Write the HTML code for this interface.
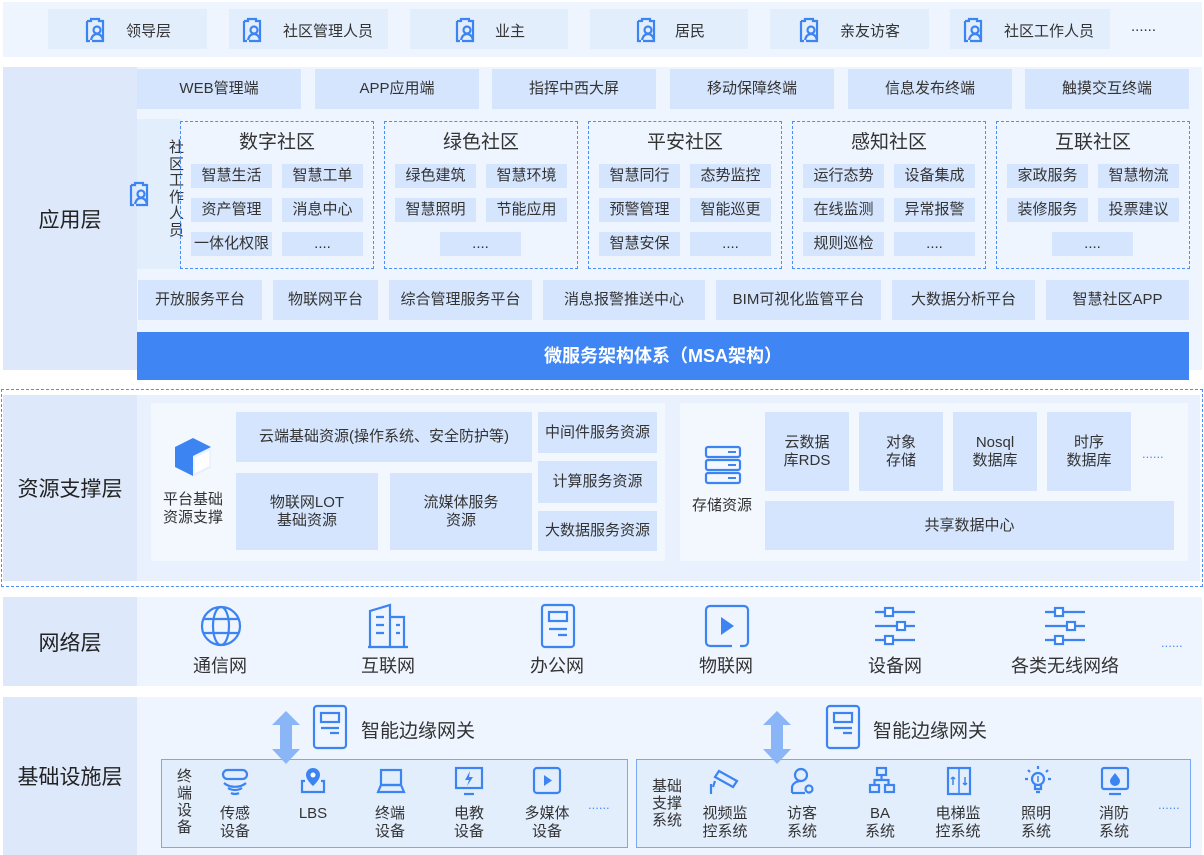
<!DOCTYPE html>
<html><head><meta charset="utf-8"><style>
*{margin:0;padding:0;box-sizing:border-box}
body{width:1204px;height:855px;background:#fff;position:relative;overflow:hidden;font-family:"Liberation Sans","Noto Sans CJK SC",sans-serif;color:#333}
div{position:absolute}
.sec{background:#eef5fe}
.lab{background:#dde9fb;display:flex;align-items:center;justify-content:center;font-size:21px;color:#222}
.b{background:#d5e5fd;display:flex;align-items:center;justify-content:center;text-align:center;font-size:15px;color:#333;line-height:18px}
.s{font-size:15px}
.dash{border:1.5px dashed #4b8ef5}
.t{display:flex;align-items:center;justify-content:center;text-align:center;line-height:18px}
svg{position:absolute}
.ic{stroke:#3d84f3;fill:none;stroke-width:2.2}
.dots{color:#4b8ef5;font-size:13px;letter-spacing:0px}
</style></head><body>

<!-- top users -->
<div class="sec" style="left:3px;top:2px;width:1199px;height:55px"></div>
<svg width="0" height="0"><defs><g id="pu"><path d="M4 5h4v-2h8v2h4v20h-11" class="ic"/><path d="M4 5v20h3" class="ic"/><circle cx="14" cy="14" r="3.5" class="ic"/><path d="M8 24c1-4 3-6 6-6s5 2 6 6" class="ic"/></g></defs></svg>
<div class="b" style="left:48px;top:9px;width:159px;height:40px;background:#e3eefd"></div>
<div class="b" style="left:229px;top:9px;width:159px;height:40px;background:#e3eefd"></div>
<div class="b" style="left:410px;top:9px;width:158px;height:40px;background:#e3eefd"></div>
<div class="b" style="left:590px;top:9px;width:158px;height:40px;background:#e3eefd"></div>
<div class="b" style="left:770px;top:9px;width:159px;height:40px;background:#e3eefd"></div>
<div class="b" style="left:950px;top:9px;width:160px;height:40px;background:#e3eefd"></div>
<svg style="left:83px;top:16px" width="26" height="28"><use href="#pu"/></svg>
<svg style="left:240px;top:16px" width="26" height="28"><use href="#pu"/></svg>
<svg style="left:453px;top:16px" width="26" height="28"><use href="#pu"/></svg>
<svg style="left:634px;top:16px" width="26" height="28"><use href="#pu"/></svg>
<svg style="left:797px;top:16px" width="26" height="28"><use href="#pu"/></svg>
<svg style="left:961px;top:16px" width="26" height="28"><use href="#pu"/></svg>
<div class="s" style="left:126px;top:20px">领导层</div>
<div class="s" style="left:283px;top:20px">社区管理人员</div>
<div class="s" style="left:495px;top:20px">业主</div>
<div class="s" style="left:675px;top:20px">居民</div>
<div class="s" style="left:840px;top:20px">亲友访客</div>
<div class="s" style="left:1004px;top:20px">社区工作人员</div>
<div class="s" style="left:1131px;top:18px">......</div>

<!-- application layer -->
<div class="sec" style="left:3px;top:67px;width:1199px;height:303px"></div>
<div class="lab" style="left:3px;top:67px;width:134px;height:303px">应用层</div>
<div class="b" style="left:137px;top:69px;width:164px;height:40px">WEB管理端</div>
<div class="b" style="left:315px;top:69px;width:164px;height:40px">APP应用端</div>
<div class="b" style="left:492px;top:69px;width:164px;height:40px">指挥中西大屏</div>
<div class="b" style="left:670px;top:69px;width:164px;height:40px">移动保障终端</div>
<div class="b" style="left:848px;top:69px;width:164px;height:40px">信息发布终端</div>
<div class="b" style="left:1025px;top:69px;width:164px;height:40px">触摸交互终端</div>

<div style="left:137px;top:119px;width:44px;height:150px;background:#e3eefd"></div>
<svg style="left:127px;top:180px" width="26" height="28"><use href="#pu"/></svg>
<div style="left:169px;top:140px;width:18px;font-size:15px;line-height:16.5px">社区工作人员</div>

<div class="dash" style="left:180px;top:121px;width:194px;height:148px"></div>
<div class="dash" style="left:384px;top:121px;width:194px;height:148px"></div>
<div class="dash" style="left:588px;top:121px;width:194px;height:148px"></div>
<div class="dash" style="left:792px;top:121px;width:194px;height:148px"></div>
<div class="dash" style="left:996px;top:121px;width:194px;height:148px"></div>
<div class="t" style="left:180px;top:134px;width:194px;font-size:19px">数字社区</div>
<div class="t" style="left:384px;top:134px;width:194px;font-size:19px">绿色社区</div>
<div class="t" style="left:588px;top:134px;width:194px;font-size:19px">平安社区</div>
<div class="t" style="left:792px;top:134px;width:194px;font-size:19px">感知社区</div>
<div class="t" style="left:996px;top:134px;width:194px;font-size:19px">互联社区</div>

<div class="b" style="left:191px;top:164px;width:81px;height:24px">智慧生活</div>
<div class="b" style="left:282px;top:164px;width:81px;height:24px">智慧工单</div>
<div class="b" style="left:191px;top:198px;width:81px;height:24px">资产管理</div>
<div class="b" style="left:282px;top:198px;width:81px;height:24px">消息中心</div>
<div class="b" style="left:191px;top:232px;width:81px;height:24px">一体化权限</div>
<div class="b" style="left:282px;top:232px;width:81px;height:24px">....</div>

<div class="b" style="left:395px;top:164px;width:81px;height:24px">绿色建筑</div>
<div class="b" style="left:486px;top:164px;width:81px;height:24px">智慧环境</div>
<div class="b" style="left:395px;top:198px;width:81px;height:24px">智慧照明</div>
<div class="b" style="left:486px;top:198px;width:81px;height:24px">节能应用</div>
<div class="b" style="left:440px;top:232px;width:81px;height:24px">....</div>

<div class="b" style="left:599px;top:164px;width:81px;height:24px">智慧同行</div>
<div class="b" style="left:690px;top:164px;width:81px;height:24px">态势监控</div>
<div class="b" style="left:599px;top:198px;width:81px;height:24px">预警管理</div>
<div class="b" style="left:690px;top:198px;width:81px;height:24px">智能巡更</div>
<div class="b" style="left:599px;top:232px;width:81px;height:24px">智慧安保</div>
<div class="b" style="left:690px;top:232px;width:81px;height:24px">....</div>

<div class="b" style="left:803px;top:164px;width:81px;height:24px">运行态势</div>
<div class="b" style="left:894px;top:164px;width:81px;height:24px">设备集成</div>
<div class="b" style="left:803px;top:198px;width:81px;height:24px">在线监测</div>
<div class="b" style="left:894px;top:198px;width:81px;height:24px">异常报警</div>
<div class="b" style="left:803px;top:232px;width:81px;height:24px">规则巡检</div>
<div class="b" style="left:894px;top:232px;width:81px;height:24px">....</div>

<div class="b" style="left:1007px;top:164px;width:81px;height:24px">家政服务</div>
<div class="b" style="left:1098px;top:164px;width:81px;height:24px">智慧物流</div>
<div class="b" style="left:1007px;top:198px;width:81px;height:24px">装修服务</div>
<div class="b" style="left:1098px;top:198px;width:81px;height:24px">投票建议</div>
<div class="b" style="left:1052px;top:232px;width:81px;height:24px">....</div>

<div class="b" style="left:138px;top:280px;width:124px;height:40px">开放服务平台</div>
<div class="b" style="left:273px;top:280px;width:105px;height:40px">物联网平台</div>
<div class="b" style="left:389px;top:280px;width:143px;height:40px">综合管理服务平台</div>
<div class="b" style="left:543px;top:280px;width:162px;height:40px">消息报警推送中心</div>
<div class="b" style="left:716px;top:280px;width:165px;height:40px">BIM可视化监管平台</div>
<div class="b" style="left:892px;top:280px;width:143px;height:40px">大数据分析平台</div>
<div class="b" style="left:1046px;top:280px;width:143px;height:40px">智慧社区APP</div>
<div class="t" style="left:137px;top:332px;width:1052px;height:48px;background:#3f86f4;color:#fff;font-size:18px;font-weight:bold">微服务架构体系（MSA架构）</div>

<!-- resource layer -->
<div class="dash" style="left:1px;top:389px;width:1202px;height:198px"></div>
<div style="left:137px;top:395px;width:1063px;height:186px;background:#e8f1fd"></div>
<div class="lab" style="left:3px;top:395px;width:134px;height:186px">资源支撑层</div>
<div style="left:151px;top:403px;width:514px;height:158px;background:#f3f8ff"></div>
<svg style="left:172px;top:436px" width="44" height="42"><path d="M21 2l18 9v20l-18 9l-18-9v-20z" fill="#3d84f3"/><path d="M21 20l18-9v20l-18 9z" fill="#fff" opacity=".9"/><path d="M23 22l14-7v15l-14 7z" fill="#fff"/></svg>
<div class="t" style="left:153px;top:491px;width:80px;font-size:15px">平台基础<br>资源支撑</div>
<div class="b" style="left:236px;top:412px;width:296px;height:50px">云端基础资源(操作系统、安全防护等)</div>
<div class="b" style="left:236px;top:473px;width:142px;height:77px">物联网LOT<br>基础资源</div>
<div class="b" style="left:390px;top:473px;width:142px;height:77px">流媒体服务<br>资源</div>
<div class="b" style="left:538px;top:412px;width:119px;height:41px">中间件服务资源</div>
<div class="b" style="left:538px;top:461px;width:119px;height:42px">计算服务资源</div>
<div class="b" style="left:538px;top:511px;width:119px;height:40px">大数据服务资源</div>

<div style="left:680px;top:403px;width:508px;height:158px;background:#f3f8ff"></div>
<svg style="left:704px;top:445px" width="38" height="40"><g class="ic"><rect x="2" y="2" width="34" height="10" rx="2"/><rect x="2" y="15" width="34" height="10" rx="2"/><rect x="2" y="28" width="34" height="10" rx="2"/></g><g fill="#3d84f3"><rect x="24" y="6" width="8" height="2"/><rect x="24" y="19" width="8" height="2"/><rect x="24" y="32" width="8" height="2"/></g></svg>
<div class="t" style="left:684px;top:497px;width:76px;font-size:15px">存储资源</div>
<div class="b" style="left:765px;top:412px;width:84px;height:79px">云数据<br>库RDS</div>
<div class="b" style="left:859px;top:412px;width:84px;height:79px">对象<br>存储</div>
<div class="b" style="left:953px;top:412px;width:84px;height:79px">Nosql<br>数据库</div>
<div class="b" style="left:1047px;top:412px;width:84px;height:79px">时序<br>数据库</div>
<div class="dots" style="left:1142px;top:446px">......</div>
<div class="b" style="left:765px;top:501px;width:409px;height:49px">共享数据中心</div>

<!-- network -->
<div class="sec" style="left:3px;top:597px;width:1199px;height:89px"></div>
<div class="lab" style="left:3px;top:597px;width:134px;height:89px">网络层</div>
<svg style="left:199px;top:605px" width="44" height="42"><g class="ic" stroke-width="2.6"><circle cx="22" cy="21" r="19"/><ellipse cx="22" cy="21" rx="8" ry="19"/><path d="M4 14h36M4 28h36"/></g></svg>
<svg style="left:366px;top:603px" width="44" height="46"><g class="ic" stroke-width="2.6"><path d="M4 44v-36l20-6v42M24 14h14v30M2 44h40M10 14h8M10 22h8M10 30h8M30 22h4M30 30h4"/></g></svg>
<svg style="left:540px;top:603px" width="36" height="46"><g class="ic" stroke-width="2.6"><rect x="2" y="2" width="32" height="42" rx="3"/><rect x="9" y="9" width="18" height="9"/><path d="M9 26h18M18 32h9"/></g></svg>
<svg style="left:704px;top:604px" width="46" height="44"><g class="ic" stroke-width="3"><path d="M28 42h-22a4 4 0 0 1-4-4v-32a4 4 0 0 1 4-4h34a4 4 0 0 1 4 4v32a4 4 0 0 1-4 4h-4"/></g><path d="M17 13l13 9l-13 9z" fill="#3d84f3"/></svg>
<svg style="left:873px;top:606px" width="44" height="40"><g class="ic" stroke-width="2.6"><path d="M2 6h40M2 20h40M2 34h40"/><rect x="12" y="2" width="8" height="8" fill="#fff"/><rect x="24" y="16" width="8" height="8" fill="#fff"/><rect x="12" y="30" width="8" height="8" fill="#fff"/></g></svg>
<svg style="left:1043px;top:606px" width="44" height="40"><g class="ic" stroke-width="2.6"><path d="M2 6h40M2 20h40M2 34h40"/><rect x="12" y="2" width="8" height="8" fill="#fff"/><rect x="24" y="16" width="8" height="8" fill="#fff"/><rect x="12" y="30" width="8" height="8" fill="#fff"/></g></svg>
<div class="t" style="left:160px;top:657px;width:120px;font-size:18px">通信网</div>
<div class="t" style="left:328px;top:657px;width:120px;font-size:18px">互联网</div>
<div class="t" style="left:497px;top:657px;width:120px;font-size:18px">办公网</div>
<div class="t" style="left:666px;top:657px;width:120px;font-size:18px">物联网</div>
<div class="t" style="left:835px;top:657px;width:120px;font-size:18px">设备网</div>
<div class="t" style="left:995px;top:657px;width:140px;font-size:18px">各类无线网络</div>
<div class="dots" style="left:1161px;top:635px">......</div>

<!-- infrastructure -->
<div class="sec" style="left:3px;top:697px;width:1199px;height:158px"></div>
<div class="lab" style="left:3px;top:697px;width:134px;height:158px">基础设施层</div>
<svg style="left:312px;top:704px" width="36" height="46"><g class="ic" stroke-width="2.8"><rect x="2" y="2" width="32" height="42" rx="3"/><rect x="9" y="9" width="18" height="9"/><path d="M9 24h18M18 29h9"/></g></svg>
<svg style="left:825px;top:704px" width="36" height="46"><g class="ic" stroke-width="2.8"><rect x="2" y="2" width="32" height="42" rx="3"/><rect x="9" y="9" width="18" height="9"/><path d="M9 24h18M18 29h9"/></g></svg>
<div style="left:361px;top:716px;font-size:19px">智能边缘网关</div>
<div style="left:873px;top:716px;font-size:19px">智能边缘网关</div>

<div style="left:161px;top:759px;width:467px;height:89px;background:#e3eefd;border:1.5px solid #7aa9f2"></div>
<div style="left:636px;top:759px;width:555px;height:89px;background:#e3eefd;border:1.5px solid #7aa9f2"></div>
<svg style="left:270px;top:710px" width="32" height="55"><path d="M16 1l14 14h-8v24h8l-14 15l-14-15h8v-24h-8z" fill="#8ab6f8"/></svg>
<svg style="left:761px;top:710px" width="32" height="55"><path d="M16 1l14 14h-8v24h8l-14 15l-14-15h8v-24h-8z" fill="#8ab6f8"/></svg>
<div style="left:177px;top:768px;width:16px;font-size:15px;line-height:17px">终端设备</div>
<div class="t" style="left:205px;top:805px;width:60px;font-size:15px">传感<br>设备</div>
<div class="t" style="left:283px;top:805px;width:60px;font-size:15px">LBS</div>
<div class="t" style="left:360px;top:805px;width:60px;font-size:15px">终端<br>设备</div>
<div class="t" style="left:439px;top:805px;width:60px;font-size:15px">电教<br>设备</div>
<div class="t" style="left:512px;top:805px;width:70px;font-size:15px">多媒体<br>设备</div>
<div class="dots" style="left:588px;top:797px">......</div>
<svg style="left:220px;top:768px" width="30" height="32"><g class="ic" stroke-width="2.4"><rect x="3" y="2" width="24" height="9" rx="4.5"/><path d="M4 15a14 10 0 0 0 22 0M8 20a10 7 0 0 0 14 0M11 25a6 4 0 0 0 8 0"/></g></svg>
<svg style="left:300px;top:766px" width="26" height="28"><path d="M13 2a7 7 0 0 1 7 7c0 5-7 11-7 11s-7-6-7-11a7 7 0 0 1 7-7z" fill="#3d84f3"/><circle cx="13" cy="9" r="2.5" fill="#fff"/><path d="M5 15h-3v11h22v-11h-3" class="ic"/></svg>
<svg style="left:376px;top:768px" width="30" height="28"><g class="ic" stroke-width="2"><rect x="5" y="2" width="20" height="15"/><path d="M2 24l3-7h20l3 7z"/></g></svg>
<svg style="left:454px;top:766px" width="30" height="30"><g class="ic" stroke-width="2.4"><rect x="2" y="2" width="26" height="20"/><path d="M10 28h10"/></g><path d="M16 5l-5 9h4l-2 6l6-9h-4z" fill="#3d84f3"/></svg>
<svg style="left:532px;top:766px" width="30" height="30"><g class="ic" stroke-width="2.4"><rect x="2" y="2" width="26" height="25" rx="3"/></g><path d="M12 9l8 5.5l-8 5.5z" fill="#3d84f3"/></svg>

<div class="t" style="left:645px;top:778px;width:44px;font-size:15px;line-height:17px">基础<br>支撑<br>系统</div>
<div class="t" style="left:695px;top:805px;width:60px;font-size:15px">视频监<br>控系统</div>
<div class="t" style="left:772px;top:805px;width:60px;font-size:15px">访客<br>系统</div>
<div class="t" style="left:850px;top:805px;width:60px;font-size:15px">BA<br>系统</div>
<div class="t" style="left:928px;top:805px;width:60px;font-size:15px">电梯监<br>控系统</div>
<div class="t" style="left:1006px;top:805px;width:60px;font-size:15px">照明<br>系统</div>
<div class="t" style="left:1084px;top:805px;width:60px;font-size:15px">消防<br>系统</div>
<div class="dots" style="left:1158px;top:797px">......</div>
<svg style="left:709px;top:768px" width="30" height="28"><g class="ic" stroke-width="2.4"><path d="M10 3l18 10l-4 6l-18-10z"/><path d="M6 13l-2 6M2 16v10"/></g></svg>
<svg style="left:789px;top:766px" width="28" height="30"><g class="ic" stroke-width="2"><circle cx="12" cy="9" r="6"/><path d="M3 27v-5c0-4 4-7 9-7"/><circle cx="20" cy="23" r="3.5"/><path d="M3 27h13"/></g></svg>
<svg style="left:868px;top:766px" width="28" height="30"><g class="ic" stroke-width="2"><rect x="9" y="2" width="9" height="7"/><rect x="2" y="19" width="9" height="7"/><rect x="17" y="19" width="9" height="7"/><path d="M13.5 9v5M6.5 19v-5h14v5"/></g></svg>
<svg style="left:946px;top:766px" width="26" height="30"><g class="ic" stroke-width="2"><rect x="2" y="2" width="22" height="26"/><path d="M13 2v26M7 11v8M7 11l-2 2M7 11l2 2M19 11v8M19 19l-2-2M19 19l2-2" stroke-width="1.5"/></g></svg>
<svg style="left:1023px;top:764px" width="30" height="32"><g class="ic" stroke-width="2"><circle cx="15" cy="15" r="6"/><path d="M12 21v4h6v-4M13 28h4M15 2v3M5 6l2 2M25 6l-2 2M2 15h3M25 15h3"/><path d="M15 12v6" stroke-width="1.5"/></g></svg>
<svg style="left:1100px;top:766px" width="30" height="30"><g class="ic" stroke-width="2.4"><rect x="2" y="2" width="26" height="21" rx="2"/><path d="M9 28h12"/></g><path d="M15 7c3 4 5 6 5 8a5 5 0 0 1-10 0c0-2 2-4 5-8z" fill="#3d84f3"/></svg>
</body></html>
